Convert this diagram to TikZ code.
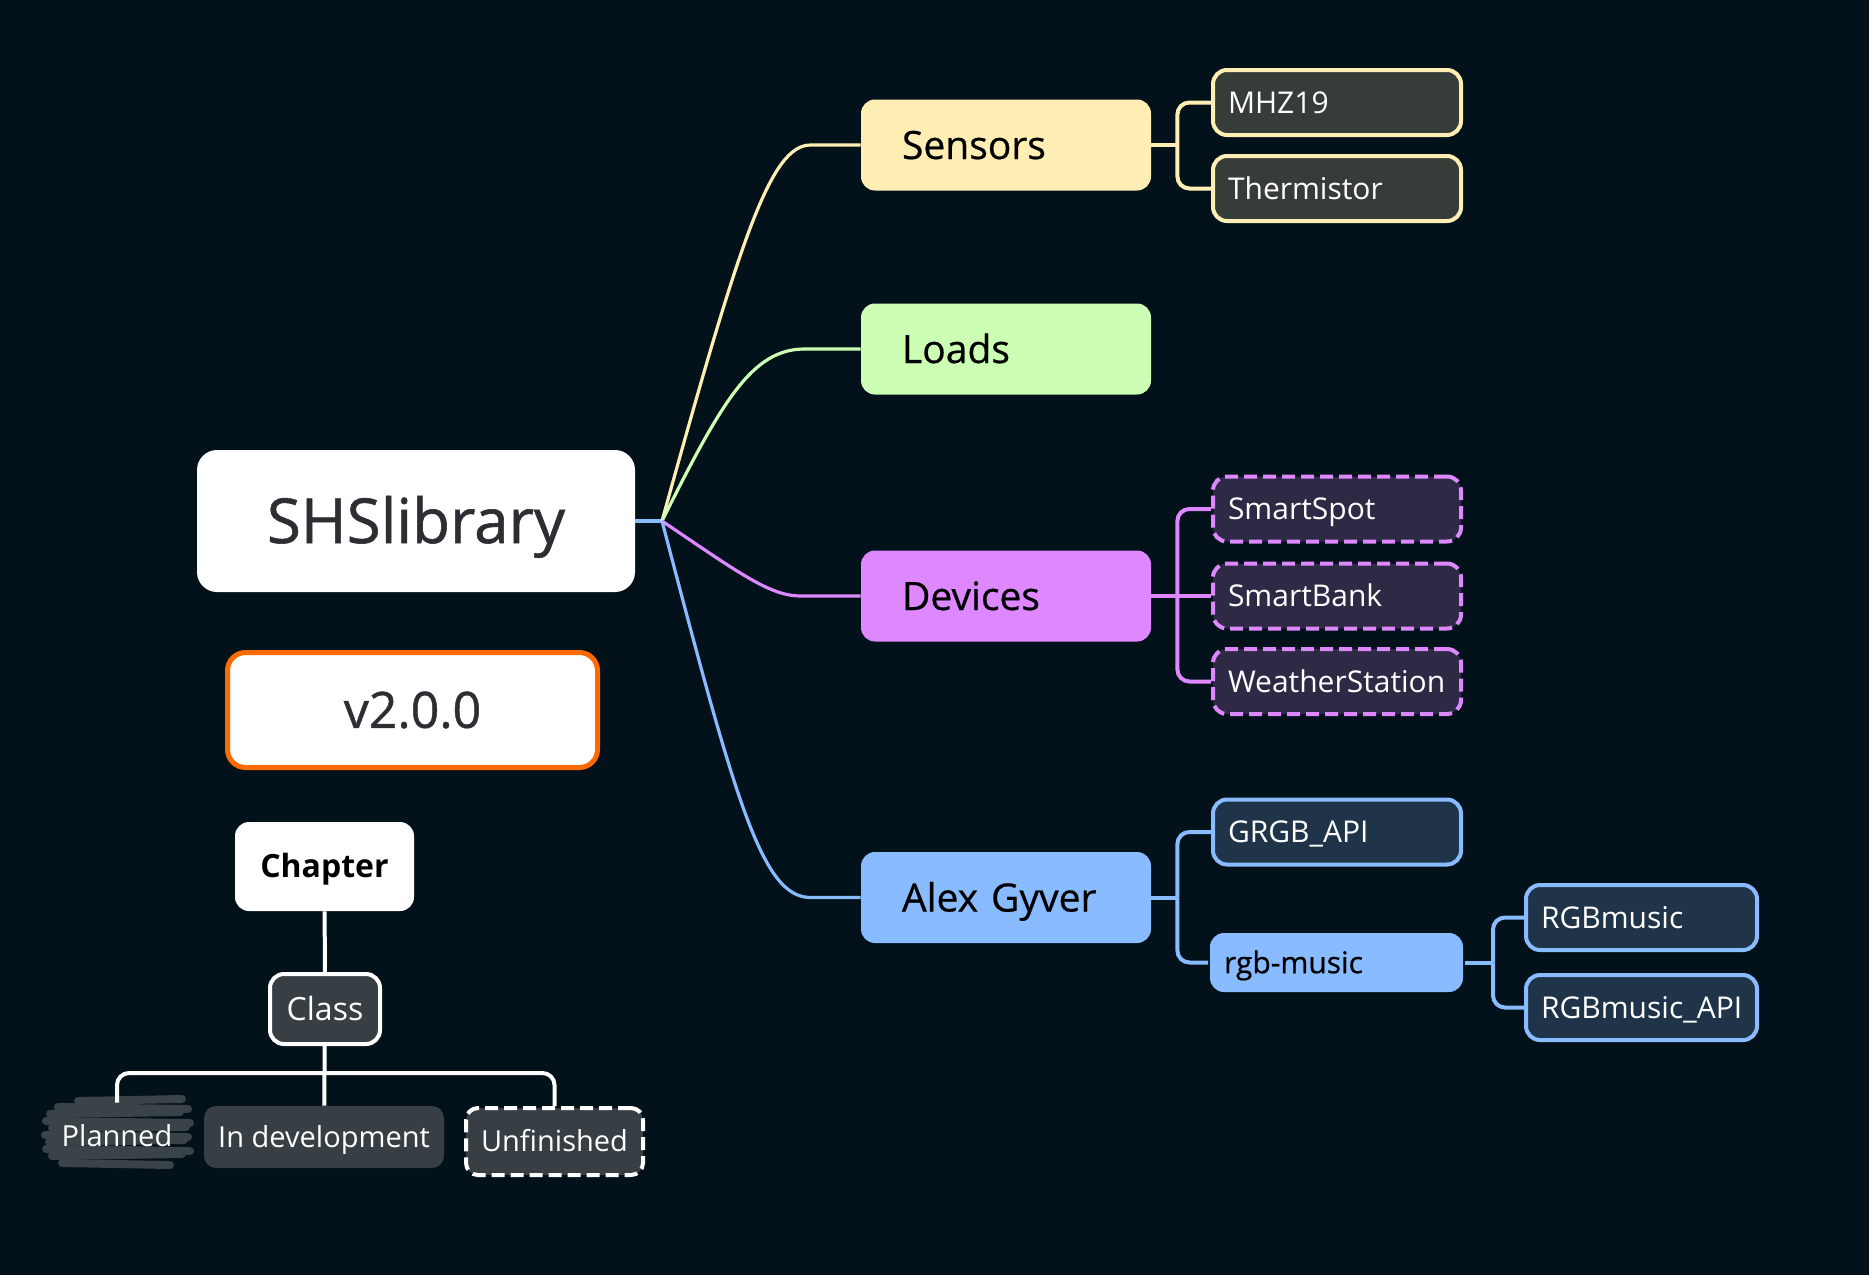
\documentclass[tikz,border=0pt]{standalone}
\usepackage{fontspec}
\setmainfont{Open Sans}
\newfontfamily\topicfont[FakeBold=0.6]{Open Sans}
\newfontfamily\rootfont[FakeBold=0.9]{Open Sans}
\usetikzlibrary{positioning}
\definecolor{bgc}{HTML}{02111A}
\definecolor{yel}{HTML}{FFEEB3}
\definecolor{yeldark}{HTML}{363D38}
\definecolor{grn}{HTML}{CCFFB3}
\definecolor{vio}{HTML}{DD88FF}
\definecolor{viodark}{HTML}{2E2A45}
\definecolor{blu}{HTML}{88BBFF}
\definecolor{bludark}{HTML}{1F3449}
\definecolor{roottext}{HTML}{2D2D33}
\definecolor{orng}{HTML}{FF6A00}
\definecolor{legendgray}{HTML}{373F44}
\definecolor{scrib}{HTML}{3A4347}
\hyphenpenalty=10000
\exhyphenpenalty=10000
\begin{document}
\begin{tikzpicture}[x=0.5pt,y=-0.5pt,
	topic/.style={rounded corners=7pt, minimum height=45.5pt, text width=104pt, inner xsep=20.5pt, inner ysep=0pt, align=left, text=black, font=\topicfont\fontsize{19.5}{21}\selectfont, text height=14pt, text depth=0pt},
	subtopic/.style={rounded corners=7pt, line width=2pt, minimum height=32.5pt, text width=109pt, inner xsep=7.5pt, inner ysep=0pt, align=left, text=white, font=\fontsize{15}{16}\selectfont, text height=10.7pt, text depth=0pt},
	branch/.style={line width=1.6pt, draw=#1},
	twig/.style={line width=2pt, draw=#1, rounded corners=6pt},
	legendbox/.style={rounded corners=6pt, inner sep=0pt, text=white, font=\fontsize{14.5}{16}\selectfont, text height=10.4pt, text depth=0pt},
	legendline/.style={line width=2pt, draw=white, rounded corners=6pt}]
	\fill[bgc] (0,0) rectangle (1869,1275);
	\useasboundingbox (0,0) rectangle (1869,1275);

	\node[fill=white, rounded corners=10pt, minimum width=219pt, minimum height=71pt, text=roottext, font=\rootfont\fontsize{31}{34}\selectfont, text height=22pt, text depth=0pt] (root) at (416,521) {SHSlibrary};
	\node[fill=white, draw=orng, line width=2.5pt, rounded corners=9pt, minimum width=185pt, minimum height=57.5pt, text=roottext, font=\rootfont\fontsize{25}{28}\selectfont, text height=17.8pt, text depth=0pt] (version) at (412.5,710) {v2.0.0};
	\coordinate (j) at (662,521);

	\node[topic, fill=yel] (sensors) at (1006,145) {Sensors};
	\node[topic, fill=grn] (loads) at (1006,349) {Loads};
	\node[topic, fill=vio] (devices) at (1006,596) {Devices};
	\node[topic, fill=blu] (alex) at (1006,897.5) {Alex Gyver};

	\node[subtopic, draw=yel, fill=yeldark] (mhz) at (1337,102.5) {MHZ19};
	\node[subtopic, draw=yel, fill=yeldark] (therm) at (1337,188.5) {Thermistor};
	\node[subtopic, draw=vio, fill=viodark, dash pattern=on 6.5pt off 3pt] (sspot) at (1337,509) {SmartSpot};
	\node[subtopic, draw=vio, fill=viodark, dash pattern=on 6.5pt off 3pt] (sbank) at (1337,596) {SmartBank};
	\node[subtopic, draw=vio, fill=viodark, dash pattern=on 6.5pt off 3pt] (wstat) at (1337,681.5) {WeatherStation};
	\node[subtopic, draw=blu, fill=bludark] (grgb) at (1337,832) {GRGB\_API};
	\node[subtopic, draw=none, fill=blu, text=black, font=\topicfont\fontsize{15}{16}\selectfont, minimum height=29.5pt, text width=112.5pt, inner xsep=7pt] (rgbm) at (1336.5,962.5) {rgb-music};
	\node[subtopic, draw=blu, fill=bludark, text width=100.5pt] (rgbmusic) at (1641.5,917.5) {RGBmusic};
	\node[subtopic, draw=blu, fill=bludark, text width=100.5pt] (rgbapi) at (1641.5,1007.5) {RGBmusic\_API};

	\draw[branch=blu, line width=2pt] (root.east) -- (j);
	\draw[branch=yel] (j) .. controls (740,240) and (770,145) .. ([xshift=-25pt]sensors.west) -- (sensors.west);
	\draw[branch=grn] (j) .. controls (722,401) and (752,349) .. ([xshift=-28pt]loads.west) -- (loads.west);
	\draw[branch=vio] (j) .. controls (739,573) and (770,596) .. ([xshift=-30pt]devices.west) -- (devices.west);
	\draw[branch=blu] (j) .. controls (736,803) and (762,897.5) .. ([xshift=-25pt]alex.west) -- (alex.west);

	\coordinate (sensJ) at ([xshift=13pt]sensors.east);
	\coordinate (devJ) at ([xshift=13pt]devices.east);
	\coordinate (alexJ) at ([xshift=13pt]alex.east);
	\coordinate (rgbJ) at ([xshift=14pt]rgbm.east);
	\draw[twig=yel] (sensors.east) -- (sensJ);
	\draw[twig=yel] (sensJ) |- (mhz.west);
	\draw[twig=yel] (sensJ) |- (therm.west);
	\draw[twig=vio] (devices.east) -- (sbank.west);
	\draw[twig=vio] (devJ) |- (sspot.west);
	\draw[twig=vio] (devJ) |- (wstat.west);
	\draw[twig=blu] (alex.east) -- (alexJ);
	\draw[twig=blu] (alexJ) |- (grgb.west);
	\draw[twig=blu] (alexJ) |- (rgbm.west);
	\draw[twig=blu] (rgbm.east) -- (rgbJ);
	\draw[twig=blu] (rgbJ) |- (rgbmusic.west);
	\draw[twig=blu] (rgbJ) |- (rgbapi.west);

	\node[legendbox, fill=white, text=black, font=\bfseries\fontsize{16}{18}\selectfont, text height=11.4pt, minimum width=89.5pt, minimum height=44.5pt, rounded corners=7pt] (chapter) at (324.5,866.5) {Chapter};
	\node[legendbox, fill=legendgray, draw=white, line width=2pt, font=\fontsize{16}{18}\selectfont, text height=11.4pt, minimum width=55pt, minimum height=35pt, rounded corners=7pt] (class) at (325,1009) {Class};
	\foreach \ya/\yb/\xa/\xb in {1101/1099/78/182, 1107/1109/58/188, 1114/1112/50/180, 1121/1123/46/190, 1128/1127/52/186, 1135/1137/45/188, 1142/1140/49/184, 1149/1151/46/190, 1156/1154/52/182, 1163/1165/62/170}
		\draw[scrib, line width=4pt, line cap=round] (\xa,\ya) -- (\xb,\yb);
	\node[legendbox, minimum width=72pt, minimum height=33pt] (planned) at (117,1136) {Planned};
	\node[legendbox, fill=legendgray, minimum width=120pt, minimum height=31pt] (indev) at (324,1137) {In development};
	\node[legendbox, fill=legendgray, draw=white, line width=2pt, dash pattern=on 6.5pt off 3pt, minimum width=88.5pt, minimum height=33.5pt] (unfin) at (554.5,1141.5) {Unfinished};
	\coordinate (bar) at (325,1073);

	\draw[legendline] (chapter) -- (class);
	\draw[legendline] (class) -- (indev);
	\draw[legendline] (planned.north) |- (bar) -| (unfin.north);
\end{tikzpicture}
\end{document}
